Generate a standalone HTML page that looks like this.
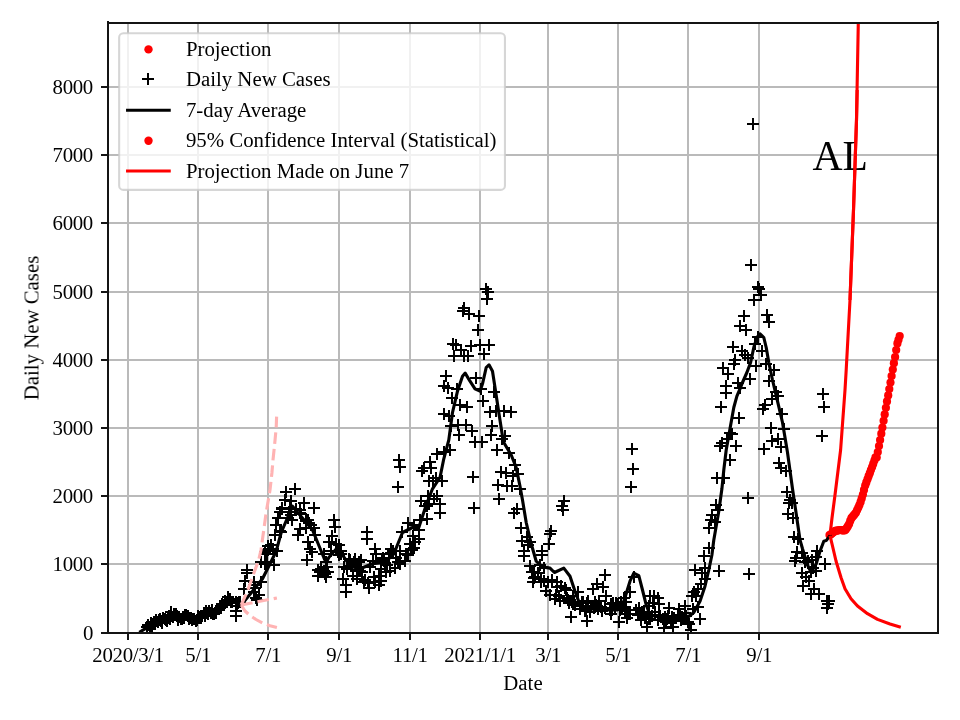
<!DOCTYPE html>
<html><head><meta charset="utf-8"><title>AL</title>
<style>html,body{margin:0;padding:0;background:#fff;}body{width:960px;height:720px;overflow:hidden;font-family:"Liberation Serif",serif;}svg{display:block;}text{font-family:"Liberation Serif",serif;fill:#000;}</style>
</head><body>
<svg width="960" height="720" viewBox="0 0 960 720">
<rect x="0" y="0" width="960" height="720" fill="#ffffff"/>
<defs><clipPath id="ax"><rect x="108.00" y="23.00" width="830.00" height="610.00"/></clipPath>
</defs>
<g fill="#bababa" shape-rendering="crispEdges">
<rect x="127" y="23" width="2" height="610"/>
<rect x="197" y="23" width="2" height="610"/>
<rect x="267" y="23" width="2" height="610"/>
<rect x="338" y="23" width="2" height="610"/>
<rect x="409" y="23" width="2" height="610"/>
<rect x="479" y="23" width="2" height="610"/>
<rect x="547" y="23" width="2" height="610"/>
<rect x="617" y="23" width="2" height="610"/>
<rect x="687" y="23" width="2" height="610"/>
<rect x="758" y="23" width="2" height="610"/>
<rect x="108" y="632" width="830" height="2"/>
<rect x="108" y="563" width="830" height="2"/>
<rect x="108" y="495" width="830" height="2"/>
<rect x="108" y="427" width="830" height="2"/>
<rect x="108" y="359" width="830" height="2"/>
<rect x="108" y="291" width="830" height="2"/>
<rect x="108" y="222" width="830" height="2"/>
<rect x="108" y="154" width="830" height="2"/>
<rect x="108" y="86" width="830" height="2"/>
</g>
<g clip-path="url(#ax)">
<g fill="#ff0000"><circle cx="829.5" cy="535.0" r="4.1"/><circle cx="830.7" cy="534.5" r="4.1"/><circle cx="831.8" cy="533.6" r="4.1"/><circle cx="833.0" cy="532.6" r="4.1"/><circle cx="834.1" cy="531.7" r="4.1"/><circle cx="835.3" cy="530.9" r="4.1"/><circle cx="836.4" cy="530.7" r="4.1"/><circle cx="837.6" cy="530.5" r="4.1"/><circle cx="838.7" cy="530.3" r="4.1"/><circle cx="839.9" cy="530.0" r="4.1"/><circle cx="841.0" cy="530.1" r="4.1"/><circle cx="842.2" cy="530.3" r="4.1"/><circle cx="843.3" cy="530.4" r="4.1"/><circle cx="844.5" cy="530.5" r="4.1"/><circle cx="845.6" cy="529.7" r="4.1"/><circle cx="846.8" cy="527.9" r="4.1"/><circle cx="847.9" cy="526.2" r="4.1"/><circle cx="849.1" cy="524.0" r="4.1"/><circle cx="850.2" cy="520.9" r="4.1"/><circle cx="851.4" cy="518.2" r="4.1"/><circle cx="852.5" cy="516.8" r="4.1"/><circle cx="853.7" cy="515.4" r="4.1"/><circle cx="854.8" cy="514.0" r="4.1"/><circle cx="856.0" cy="512.5" r="4.1"/><circle cx="857.1" cy="510.0" r="4.1"/><circle cx="858.3" cy="507.5" r="4.1"/><circle cx="859.4" cy="505.0" r="4.1"/><circle cx="860.6" cy="501.9" r="4.1"/><circle cx="861.7" cy="498.4" r="4.1"/><circle cx="862.9" cy="494.5" r="4.1"/><circle cx="864.0" cy="489.9" r="4.1"/><circle cx="865.2" cy="485.5" r="4.1"/><circle cx="866.3" cy="482.4" r="4.1"/><circle cx="867.5" cy="479.3" r="4.1"/><circle cx="868.6" cy="476.2" r="4.1"/><circle cx="869.8" cy="473.2" r="4.1"/><circle cx="870.9" cy="470.1" r="4.1"/><circle cx="872.1" cy="467.1" r="4.1"/><circle cx="873.2" cy="463.9" r="4.1"/><circle cx="874.4" cy="460.5" r="4.1"/><circle cx="875.5" cy="457.3" r="4.1"/><circle cx="876.7" cy="457.5" r="4.1"/><circle cx="877.8" cy="452.0" r="4.1"/><circle cx="879.0" cy="446.0" r="4.1"/><circle cx="880.1" cy="440.0" r="4.1"/><circle cx="881.3" cy="433.7" r="4.1"/><circle cx="882.4" cy="427.5" r="4.1"/><circle cx="883.6" cy="420.8" r="4.1"/><circle cx="884.7" cy="414.4" r="4.1"/><circle cx="885.9" cy="407.8" r="4.1"/><circle cx="887.0" cy="401.4" r="4.1"/><circle cx="888.2" cy="395.4" r="4.1"/><circle cx="889.3" cy="389.0" r="4.1"/><circle cx="890.5" cy="382.6" r="4.1"/><circle cx="891.6" cy="376.0" r="4.1"/><circle cx="892.8" cy="369.6" r="4.1"/><circle cx="893.9" cy="363.2" r="4.1"/><circle cx="895.1" cy="357.0" r="4.1"/><circle cx="896.2" cy="350.0" r="4.1"/><circle cx="897.4" cy="343.4" r="4.1"/><circle cx="898.5" cy="339.8" r="4.1"/><circle cx="899.7" cy="336.0" r="4.1"/></g>
<path fill="#000" shape-rendering="crispEdges" d="M141 626h12v2h-12zM146 621h2v12h-2zM142 624h12v2h-12zM147 619h2v12h-2zM144 626h12v2h-12zM149 621h2v12h-2zM145 622h12v2h-12zM150 617h2v12h-2zM146 625h12v2h-12zM151 620h2v12h-2zM147 623h12v2h-12zM152 618h2v12h-2zM148 621h12v2h-12zM153 616h2v12h-2zM149 623h12v2h-12zM154 618h2v12h-2zM150 619h12v2h-12zM155 614h2v12h-2zM152 621h12v2h-12zM157 616h2v12h-2zM153 619h12v2h-12zM158 614h2v12h-2zM154 618h12v2h-12zM159 613h2v12h-2zM155 620h12v2h-12zM160 615h2v12h-2zM156 622h12v2h-12zM161 617h2v12h-2zM157 617h12v2h-12zM162 612h2v12h-2zM159 618h12v2h-12zM164 613h2v12h-2zM160 619h12v2h-12zM165 614h2v12h-2zM161 620h12v2h-12zM166 615h2v12h-2zM162 617h12v2h-12zM167 612h2v12h-2zM163 615h12v2h-12zM168 610h2v12h-2zM164 618h12v2h-12zM169 613h2v12h-2zM165 611h12v2h-12zM170 606h2v12h-2zM167 616h12v2h-12zM172 611h2v12h-2zM168 613h12v2h-12zM173 608h2v12h-2zM169 613h12v2h-12zM174 608h2v12h-2zM170 613h12v2h-12zM175 608h2v12h-2zM171 615h12v2h-12zM176 610h2v12h-2zM172 619h12v2h-12zM177 614h2v12h-2zM173 616h12v2h-12zM178 611h2v12h-2zM175 618h12v2h-12zM180 613h2v12h-2zM176 618h12v2h-12zM181 613h2v12h-2zM177 616h12v2h-12zM182 611h2v12h-2zM178 617h12v2h-12zM183 612h2v12h-2zM179 614h12v2h-12zM184 609h2v12h-2zM180 614h12v2h-12zM185 609h2v12h-2zM182 615h12v2h-12zM187 610h2v12h-2zM183 618h12v2h-12zM188 613h2v12h-2zM184 617h12v2h-12zM189 612h2v12h-2zM185 617h12v2h-12zM190 612h2v12h-2zM186 619h12v2h-12zM191 614h2v12h-2zM187 618h12v2h-12zM192 613h2v12h-2zM188 618h12v2h-12zM193 613h2v12h-2zM190 620h12v2h-12zM195 615h2v12h-2zM191 619h12v2h-12zM196 614h2v12h-2zM192 615h12v2h-12zM197 610h2v12h-2zM193 617h12v2h-12zM198 612h2v12h-2zM194 616h12v2h-12zM199 611h2v12h-2zM195 617h12v2h-12zM200 612h2v12h-2zM196 615h12v2h-12zM201 610h2v12h-2zM198 612h12v2h-12zM203 607h2v12h-2zM199 615h12v2h-12zM204 610h2v12h-2zM200 610h12v2h-12zM205 605h2v12h-2zM201 612h12v2h-12zM206 607h2v12h-2zM202 613h12v2h-12zM207 608h2v12h-2zM203 610h12v2h-12zM208 605h2v12h-2zM205 612h12v2h-12zM210 607h2v12h-2zM206 609h12v2h-12zM211 604h2v12h-2zM207 613h12v2h-12zM212 608h2v12h-2zM208 613h12v2h-12zM213 608h2v12h-2zM209 612h12v2h-12zM214 607h2v12h-2zM210 612h12v2h-12zM215 607h2v12h-2zM211 608h12v2h-12zM216 603h2v12h-2zM213 608h12v2h-12zM218 603h2v12h-2zM214 607h12v2h-12zM219 602h2v12h-2zM215 605h12v2h-12zM220 600h2v12h-2zM216 603h12v2h-12zM221 598h2v12h-2zM217 604h12v2h-12zM222 599h2v12h-2zM218 604h12v2h-12zM223 599h2v12h-2zM219 600h12v2h-12zM224 595h2v12h-2zM221 601h12v2h-12zM226 596h2v12h-2zM222 596h12v2h-12zM227 591h2v12h-2zM223 599h12v2h-12zM228 594h2v12h-2zM224 598h12v2h-12zM229 593h2v12h-2zM225 601h12v2h-12zM230 596h2v12h-2zM226 601h12v2h-12zM231 596h2v12h-2zM230 601h12v2h-12zM235 596h2v12h-2zM230 610h12v2h-12zM235 605h2v12h-2zM230 615h12v2h-12zM235 610h2v12h-2zM231 605h12v2h-12zM236 600h2v12h-2zM232 602h12v2h-12zM237 597h2v12h-2zM233 601h12v2h-12zM238 596h2v12h-2zM234 601h12v2h-12zM239 596h2v12h-2zM238 588h12v2h-12zM243 583h2v12h-2zM239 580h12v2h-12zM244 575h2v12h-2zM241 569h12v2h-12zM246 564h2v12h-2zM241 572h12v2h-12zM246 567h2v12h-2zM248 581h12v2h-12zM253 576h2v12h-2zM248 584h12v2h-12zM253 579h2v12h-2zM248 591h12v2h-12zM253 586h2v12h-2zM249 587h12v2h-12zM254 582h2v12h-2zM250 597h12v2h-12zM255 592h2v12h-2zM251 599h12v2h-12zM256 594h2v12h-2zM253 594h12v2h-12zM258 589h2v12h-2zM255 561h12v2h-12zM260 556h2v12h-2zM255 581h12v2h-12zM260 576h2v12h-2zM259 552h12v2h-12zM264 547h2v12h-2zM259 551h12v2h-12zM264 546h2v12h-2zM259 563h12v2h-12zM264 558h2v12h-2zM260 553h12v2h-12zM265 548h2v12h-2zM261 561h12v2h-12zM266 556h2v12h-2zM262 549h12v2h-12zM267 544h2v12h-2zM262 545h12v2h-12zM267 540h2v12h-2zM263 548h12v2h-12zM268 543h2v12h-2zM265 544h12v2h-12zM270 539h2v12h-2zM267 548h12v2h-12zM272 543h2v12h-2zM268 564h12v2h-12zM273 559h2v12h-2zM269 534h12v2h-12zM274 529h2v12h-2zM270 524h12v2h-12zM275 519h2v12h-2zM271 550h12v2h-12zM276 545h2v12h-2zM272 517h12v2h-12zM277 512h2v12h-2zM274 511h12v2h-12zM279 506h2v12h-2zM274 530h12v2h-12zM279 525h2v12h-2zM275 531h12v2h-12zM280 526h2v12h-2zM276 508h12v2h-12zM281 503h2v12h-2zM276 507h12v2h-12zM281 502h2v12h-2zM279 499h12v2h-12zM284 494h2v12h-2zM280 491h12v2h-12zM285 486h2v12h-2zM282 517h12v2h-12zM287 512h2v12h-2zM283 511h12v2h-12zM288 506h2v12h-2zM284 507h12v2h-12zM289 502h2v12h-2zM285 514h12v2h-12zM290 509h2v12h-2zM285 500h12v2h-12zM290 495h2v12h-2zM286 519h12v2h-12zM291 514h2v12h-2zM289 488h12v2h-12zM294 483h2v12h-2zM290 508h12v2h-12zM295 503h2v12h-2zM292 534h12v2h-12zM297 529h2v12h-2zM294 509h12v2h-12zM299 504h2v12h-2zM294 528h12v2h-12zM299 523h2v12h-2zM294 512h12v2h-12zM299 507h2v12h-2zM295 513h12v2h-12zM300 508h2v12h-2zM298 502h12v2h-12zM303 497h2v12h-2zM300 527h12v2h-12zM305 522h2v12h-2zM300 520h12v2h-12zM305 515h2v12h-2zM301 559h12v2h-12zM306 554h2v12h-2zM302 541h12v2h-12zM307 536h2v12h-2zM302 519h12v2h-12zM307 514h2v12h-2zM303 522h12v2h-12zM308 517h2v12h-2zM304 548h12v2h-12zM309 543h2v12h-2zM305 524h12v2h-12zM310 519h2v12h-2zM306 551h12v2h-12zM311 546h2v12h-2zM308 507h12v2h-12zM313 502h2v12h-2zM308 527h12v2h-12zM313 522h2v12h-2zM309 534h12v2h-12zM314 529h2v12h-2zM312 569h12v2h-12zM317 564h2v12h-2zM312 575h12v2h-12zM317 570h2v12h-2zM314 571h12v2h-12zM319 566h2v12h-2zM315 568h12v2h-12zM320 563h2v12h-2zM318 553h12v2h-12zM323 548h2v12h-2zM318 570h12v2h-12zM323 565h2v12h-2zM319 573h12v2h-12zM324 568h2v12h-2zM320 561h12v2h-12zM325 556h2v12h-2zM320 576h12v2h-12zM325 571h2v12h-2zM321 566h12v2h-12zM326 561h2v12h-2zM322 571h12v2h-12zM327 566h2v12h-2zM323 541h12v2h-12zM328 536h2v12h-2zM325 550h12v2h-12zM330 545h2v12h-2zM326 535h12v2h-12zM331 530h2v12h-2zM328 519h12v2h-12zM333 514h2v12h-2zM329 526h12v2h-12zM334 521h2v12h-2zM330 543h12v2h-12zM335 538h2v12h-2zM332 551h12v2h-12zM337 546h2v12h-2zM333 544h12v2h-12zM338 539h2v12h-2zM333 554h12v2h-12zM338 549h2v12h-2zM335 553h12v2h-12zM340 548h2v12h-2zM335 550h12v2h-12zM340 545h2v12h-2zM337 578h12v2h-12zM342 573h2v12h-2zM338 566h12v2h-12zM343 561h2v12h-2zM340 591h12v2h-12zM345 586h2v12h-2zM340 584h12v2h-12zM345 579h2v12h-2zM341 568h12v2h-12zM346 563h2v12h-2zM343 558h12v2h-12zM348 553h2v12h-2zM344 559h12v2h-12zM349 554h2v12h-2zM345 565h12v2h-12zM350 560h2v12h-2zM346 563h12v2h-12zM351 558h2v12h-2zM347 575h12v2h-12zM352 570h2v12h-2zM348 561h12v2h-12zM353 556h2v12h-2zM349 558h12v2h-12zM354 553h2v12h-2zM351 578h12v2h-12zM356 573h2v12h-2zM352 569h12v2h-12zM357 564h2v12h-2zM353 561h12v2h-12zM358 556h2v12h-2zM354 570h12v2h-12zM359 565h2v12h-2zM355 559h12v2h-12zM360 554h2v12h-2zM356 571h12v2h-12zM361 566h2v12h-2zM358 581h12v2h-12zM363 576h2v12h-2zM359 579h12v2h-12zM364 574h2v12h-2zM361 531h12v2h-12zM366 526h2v12h-2zM361 538h12v2h-12zM366 533h2v12h-2zM362 582h12v2h-12zM367 577h2v12h-2zM363 587h12v2h-12zM368 582h2v12h-2zM364 566h12v2h-12zM369 561h2v12h-2zM367 560h12v2h-12zM372 555h2v12h-2zM368 576h12v2h-12zM373 571h2v12h-2zM369 548h12v2h-12zM374 543h2v12h-2zM369 581h12v2h-12zM374 576h2v12h-2zM370 553h12v2h-12zM375 548h2v12h-2zM373 575h12v2h-12zM378 570h2v12h-2zM373 584h12v2h-12zM378 579h2v12h-2zM375 580h12v2h-12zM380 575h2v12h-2zM375 568h12v2h-12zM380 563h2v12h-2zM376 559h12v2h-12zM381 554h2v12h-2zM377 557h12v2h-12zM382 552h2v12h-2zM378 560h12v2h-12zM383 555h2v12h-2zM379 562h12v2h-12zM384 557h2v12h-2zM380 571h12v2h-12zM385 566h2v12h-2zM381 564h12v2h-12zM386 559h2v12h-2zM383 553h12v2h-12zM388 548h2v12h-2zM384 570h12v2h-12zM389 565h2v12h-2zM385 548h12v2h-12zM390 543h2v12h-2zM385 552h12v2h-12zM390 547h2v12h-2zM387 550h12v2h-12zM392 545h2v12h-2zM389 567h12v2h-12zM394 562h2v12h-2zM390 557h12v2h-12zM395 552h2v12h-2zM392 561h12v2h-12zM397 556h2v12h-2zM392 486h12v2h-12zM397 481h2v12h-2zM393 459h12v2h-12zM398 454h2v12h-2zM394 466h12v2h-12zM399 461h2v12h-2zM394 563h12v2h-12zM399 558h2v12h-2zM394 550h12v2h-12zM399 545h2v12h-2zM396 531h12v2h-12zM401 526h2v12h-2zM399 560h12v2h-12zM404 555h2v12h-2zM400 553h12v2h-12zM405 548h2v12h-2zM402 522h12v2h-12zM407 517h2v12h-2zM402 554h12v2h-12zM407 549h2v12h-2zM404 543h12v2h-12zM409 538h2v12h-2zM405 548h12v2h-12zM410 543h2v12h-2zM406 549h12v2h-12zM411 544h2v12h-2zM407 535h12v2h-12zM412 530h2v12h-2zM408 524h12v2h-12zM413 519h2v12h-2zM408 547h12v2h-12zM413 542h2v12h-2zM409 541h12v2h-12zM414 536h2v12h-2zM413 529h12v2h-12zM418 524h2v12h-2zM413 538h12v2h-12zM418 533h2v12h-2zM414 519h12v2h-12zM419 514h2v12h-2zM415 500h12v2h-12zM420 495h2v12h-2zM416 470h12v2h-12zM421 465h2v12h-2zM418 467h12v2h-12zM423 462h2v12h-2zM419 505h12v2h-12zM424 500h2v12h-2zM421 505h12v2h-12zM426 500h2v12h-2zM421 518h12v2h-12zM426 513h2v12h-2zM422 495h12v2h-12zM427 490h2v12h-2zM423 480h12v2h-12zM428 475h2v12h-2zM423 503h12v2h-12zM428 498h2v12h-2zM424 461h12v2h-12zM429 456h2v12h-2zM425 467h12v2h-12zM430 462h2v12h-2zM427 480h12v2h-12zM432 475h2v12h-2zM428 498h12v2h-12zM433 493h2v12h-2zM430 477h12v2h-12zM435 472h2v12h-2zM431 453h12v2h-12zM436 448h2v12h-2zM431 495h12v2h-12zM436 490h2v12h-2zM434 503h12v2h-12zM439 498h2v12h-2zM434 512h12v2h-12zM439 507h2v12h-2zM436 480h12v2h-12zM441 475h2v12h-2zM438 413h12v2h-12zM443 408h2v12h-2zM438 451h12v2h-12zM443 446h2v12h-2zM438 385h12v2h-12zM443 380h2v12h-2zM440 375h12v2h-12zM445 370h2v12h-2zM442 387h12v2h-12zM447 382h2v12h-2zM443 415h12v2h-12zM448 410h2v12h-2zM444 449h12v2h-12zM449 444h2v12h-2zM445 425h12v2h-12zM450 420h2v12h-2zM446 397h12v2h-12zM451 392h2v12h-2zM447 343h12v2h-12zM452 338h2v12h-2zM448 355h12v2h-12zM453 350h2v12h-2zM450 344h12v2h-12zM455 339h2v12h-2zM451 388h12v2h-12zM456 383h2v12h-2zM452 424h12v2h-12zM457 419h2v12h-2zM453 434h12v2h-12zM458 429h2v12h-2zM454 404h12v2h-12zM459 399h2v12h-2zM455 349h12v2h-12zM460 344h2v12h-2zM457 310h12v2h-12zM462 305h2v12h-2zM458 307h12v2h-12zM463 302h2v12h-2zM458 355h12v2h-12zM463 350h2v12h-2zM460 424h12v2h-12zM465 419h2v12h-2zM461 406h12v2h-12zM466 401h2v12h-2zM462 355h12v2h-12zM467 350h2v12h-2zM463 313h12v2h-12zM468 308h2v12h-2zM465 345h12v2h-12zM470 340h2v12h-2zM466 430h12v2h-12zM471 425h2v12h-2zM467 476h12v2h-12zM472 471h2v12h-2zM468 507h12v2h-12zM473 502h2v12h-2zM469 441h12v2h-12zM474 436h2v12h-2zM470 377h12v2h-12zM475 372h2v12h-2zM472 329h12v2h-12zM477 324h2v12h-2zM473 315h12v2h-12zM478 310h2v12h-2zM474 344h12v2h-12zM479 339h2v12h-2zM475 388h12v2h-12zM480 383h2v12h-2zM476 441h12v2h-12zM481 436h2v12h-2zM477 400h12v2h-12zM482 395h2v12h-2zM478 353h12v2h-12zM483 348h2v12h-2zM480 288h12v2h-12zM485 283h2v12h-2zM481 298h12v2h-12zM486 293h2v12h-2zM482 291h12v2h-12zM487 286h2v12h-2zM483 344h12v2h-12zM488 339h2v12h-2zM484 411h12v2h-12zM489 406h2v12h-2zM485 434h12v2h-12zM490 429h2v12h-2zM486 425h12v2h-12zM491 420h2v12h-2zM488 391h12v2h-12zM493 386h2v12h-2zM490 410h12v2h-12zM495 405h2v12h-2zM491 449h12v2h-12zM496 444h2v12h-2zM492 484h12v2h-12zM497 479h2v12h-2zM493 498h12v2h-12zM498 493h2v12h-2zM495 471h12v2h-12zM500 466h2v12h-2zM496 438h12v2h-12zM501 433h2v12h-2zM498 410h12v2h-12zM503 405h2v12h-2zM499 435h12v2h-12zM504 430h2v12h-2zM500 472h12v2h-12zM505 467h2v12h-2zM501 485h12v2h-12zM506 480h2v12h-2zM503 452h12v2h-12zM508 447h2v12h-2zM505 411h12v2h-12zM510 406h2v12h-2zM506 485h12v2h-12zM511 480h2v12h-2zM507 475h12v2h-12zM512 470h2v12h-2zM508 512h12v2h-12zM513 507h2v12h-2zM509 464h12v2h-12zM514 459h2v12h-2zM511 508h12v2h-12zM516 503h2v12h-2zM512 473h12v2h-12zM517 468h2v12h-2zM514 488h12v2h-12zM519 483h2v12h-2zM515 527h12v2h-12zM520 522h2v12h-2zM516 540h12v2h-12zM521 535h2v12h-2zM518 555h12v2h-12zM523 550h2v12h-2zM518 550h12v2h-12zM523 545h2v12h-2zM521 536h12v2h-12zM526 531h2v12h-2zM522 544h12v2h-12zM527 539h2v12h-2zM524 565h12v2h-12zM529 560h2v12h-2zM524 541h12v2h-12zM529 536h2v12h-2zM526 571h12v2h-12zM531 566h2v12h-2zM527 581h12v2h-12zM532 576h2v12h-2zM528 577h12v2h-12zM533 572h2v12h-2zM528 571h12v2h-12zM533 566h2v12h-2zM529 576h12v2h-12zM534 571h2v12h-2zM532 572h12v2h-12zM537 567h2v12h-2zM534 564h12v2h-12zM539 559h2v12h-2zM535 578h12v2h-12zM540 573h2v12h-2zM535 581h12v2h-12zM540 576h2v12h-2zM536 550h12v2h-12zM541 545h2v12h-2zM536 554h12v2h-12zM541 549h2v12h-2zM538 567h12v2h-12zM543 562h2v12h-2zM538 580h12v2h-12zM543 575h2v12h-2zM540 590h12v2h-12zM545 585h2v12h-2zM542 581h12v2h-12zM547 576h2v12h-2zM543 543h12v2h-12zM548 538h2v12h-2zM544 533h12v2h-12zM549 528h2v12h-2zM544 594h12v2h-12zM549 589h2v12h-2zM545 530h12v2h-12zM550 525h2v12h-2zM546 579h12v2h-12zM551 574h2v12h-2zM549 598h12v2h-12zM554 593h2v12h-2zM550 594h12v2h-12zM555 589h2v12h-2zM551 586h12v2h-12zM556 581h2v12h-2zM551 581h12v2h-12zM556 576h2v12h-2zM553 595h12v2h-12zM558 590h2v12h-2zM554 600h12v2h-12zM559 595h2v12h-2zM555 585h12v2h-12zM560 580h2v12h-2zM556 505h12v2h-12zM561 500h2v12h-2zM557 509h12v2h-12zM562 504h2v12h-2zM558 500h12v2h-12zM563 495h2v12h-2zM559 587h12v2h-12zM564 582h2v12h-2zM560 589h12v2h-12zM565 584h2v12h-2zM561 597h12v2h-12zM566 592h2v12h-2zM562 599h12v2h-12zM567 594h2v12h-2zM563 602h12v2h-12zM568 597h2v12h-2zM565 616h12v2h-12zM570 611h2v12h-2zM566 601h12v2h-12zM571 596h2v12h-2zM567 603h12v2h-12zM572 598h2v12h-2zM567 595h12v2h-12zM572 590h2v12h-2zM568 602h12v2h-12zM573 597h2v12h-2zM569 604h12v2h-12zM574 599h2v12h-2zM572 591h12v2h-12zM577 586h2v12h-2zM574 608h12v2h-12zM579 603h2v12h-2zM575 605h12v2h-12zM580 600h2v12h-2zM576 601h12v2h-12zM581 596h2v12h-2zM576 601h12v2h-12zM581 596h2v12h-2zM577 601h12v2h-12zM582 596h2v12h-2zM579 610h12v2h-12zM584 605h2v12h-2zM580 609h12v2h-12zM585 604h2v12h-2zM581 602h12v2h-12zM586 597h2v12h-2zM581 620h12v2h-12zM586 615h2v12h-2zM582 600h12v2h-12zM587 595h2v12h-2zM584 611h12v2h-12zM589 606h2v12h-2zM585 605h12v2h-12zM590 600h2v12h-2zM587 588h12v2h-12zM592 583h2v12h-2zM588 607h12v2h-12zM593 602h2v12h-2zM589 601h12v2h-12zM594 596h2v12h-2zM590 604h12v2h-12zM595 599h2v12h-2zM591 583h12v2h-12zM596 578h2v12h-2zM592 608h12v2h-12zM597 603h2v12h-2zM593 600h12v2h-12zM598 595h2v12h-2zM595 606h12v2h-12zM600 601h2v12h-2zM596 610h12v2h-12zM601 605h2v12h-2zM597 586h12v2h-12zM602 581h2v12h-2zM599 574h12v2h-12zM604 569h2v12h-2zM599 607h12v2h-12zM604 602h2v12h-2zM600 595h12v2h-12zM605 590h2v12h-2zM604 609h12v2h-12zM609 604h2v12h-2zM605 603h12v2h-12zM610 598h2v12h-2zM605 603h12v2h-12zM610 598h2v12h-2zM605 613h12v2h-12zM610 608h2v12h-2zM606 609h12v2h-12zM611 604h2v12h-2zM607 602h12v2h-12zM612 597h2v12h-2zM609 608h12v2h-12zM614 603h2v12h-2zM610 602h12v2h-12zM615 597h2v12h-2zM611 603h12v2h-12zM616 598h2v12h-2zM612 604h12v2h-12zM617 599h2v12h-2zM613 621h12v2h-12zM618 616h2v12h-2zM614 609h12v2h-12zM619 604h2v12h-2zM615 601h12v2h-12zM620 596h2v12h-2zM616 608h12v2h-12zM621 603h2v12h-2zM618 597h12v2h-12zM623 592h2v12h-2zM619 606h12v2h-12zM624 601h2v12h-2zM619 610h12v2h-12zM624 605h2v12h-2zM620 601h12v2h-12zM625 596h2v12h-2zM621 617h12v2h-12zM626 612h2v12h-2zM622 613h12v2h-12zM627 608h2v12h-2zM624 591h12v2h-12zM629 586h2v12h-2zM624 613h12v2h-12zM629 608h2v12h-2zM625 486h12v2h-12zM630 481h2v12h-2zM626 448h12v2h-12zM631 443h2v12h-2zM627 468h12v2h-12zM632 463h2v12h-2zM628 576h12v2h-12zM633 571h2v12h-2zM630 609h12v2h-12zM635 604h2v12h-2zM632 614h12v2h-12zM637 609h2v12h-2zM633 607h12v2h-12zM638 602h2v12h-2zM635 612h12v2h-12zM640 607h2v12h-2zM635 619h12v2h-12zM640 614h2v12h-2zM636 611h12v2h-12zM641 606h2v12h-2zM638 613h12v2h-12zM643 608h2v12h-2zM639 617h12v2h-12zM644 612h2v12h-2zM639 616h12v2h-12zM644 611h2v12h-2zM641 626h12v2h-12zM646 621h2v12h-2zM643 605h12v2h-12zM648 600h2v12h-2zM643 618h12v2h-12zM648 613h2v12h-2zM644 595h12v2h-12zM649 590h2v12h-2zM644 618h12v2h-12zM649 613h2v12h-2zM646 615h12v2h-12zM651 610h2v12h-2zM647 602h12v2h-12zM652 597h2v12h-2zM648 595h12v2h-12zM653 590h2v12h-2zM649 611h12v2h-12zM654 606h2v12h-2zM652 597h12v2h-12zM657 592h2v12h-2zM652 619h12v2h-12zM657 614h2v12h-2zM653 614h12v2h-12zM658 609h2v12h-2zM653 603h12v2h-12zM658 598h2v12h-2zM654 615h12v2h-12zM659 610h2v12h-2zM657 618h12v2h-12zM662 613h2v12h-2zM658 627h12v2h-12zM663 622h2v12h-2zM659 616h12v2h-12zM664 611h2v12h-2zM660 621h12v2h-12zM665 616h2v12h-2zM661 618h12v2h-12zM666 613h2v12h-2zM662 615h12v2h-12zM667 610h2v12h-2zM663 607h12v2h-12zM668 602h2v12h-2zM665 622h12v2h-12zM670 617h2v12h-2zM666 616h12v2h-12zM671 611h2v12h-2zM667 620h12v2h-12zM672 615h2v12h-2zM667 626h12v2h-12zM672 621h2v12h-2zM668 617h12v2h-12zM673 612h2v12h-2zM672 615h12v2h-12zM677 610h2v12h-2zM673 615h12v2h-12zM678 610h2v12h-2zM673 608h12v2h-12zM678 603h2v12h-2zM674 614h12v2h-12zM679 609h2v12h-2zM675 619h12v2h-12zM680 614h2v12h-2zM676 616h12v2h-12zM681 611h2v12h-2zM677 618h12v2h-12zM682 613h2v12h-2zM679 612h12v2h-12zM684 607h2v12h-2zM679 605h12v2h-12zM684 600h2v12h-2zM680 615h12v2h-12zM685 610h2v12h-2zM682 621h12v2h-12zM687 616h2v12h-2zM683 623h12v2h-12zM688 618h2v12h-2zM685 629h12v2h-12zM690 624h2v12h-2zM686 595h12v2h-12zM691 590h2v12h-2zM687 608h12v2h-12zM692 603h2v12h-2zM688 591h12v2h-12zM693 586h2v12h-2zM689 569h12v2h-12zM694 564h2v12h-2zM690 595h12v2h-12zM695 590h2v12h-2zM692 588h12v2h-12zM697 583h2v12h-2zM692 606h12v2h-12zM697 601h2v12h-2zM694 618h12v2h-12zM699 613h2v12h-2zM695 583h12v2h-12zM700 578h2v12h-2zM696 572h12v2h-12zM701 567h2v12h-2zM698 555h12v2h-12zM703 550h2v12h-2zM699 567h12v2h-12zM704 562h2v12h-2zM699 578h12v2h-12zM704 573h2v12h-2zM703 547h12v2h-12zM708 542h2v12h-2zM703 527h12v2h-12zM708 522h2v12h-2zM705 519h12v2h-12zM710 514h2v12h-2zM706 514h12v2h-12zM711 509h2v12h-2zM709 521h12v2h-12zM714 516h2v12h-2zM710 504h12v2h-12zM715 499h2v12h-2zM711 477h12v2h-12zM716 472h2v12h-2zM712 509h12v2h-12zM717 504h2v12h-2zM713 570h12v2h-12zM718 565h2v12h-2zM714 445h12v2h-12zM719 440h2v12h-2zM715 406h12v2h-12zM720 401h2v12h-2zM716 442h12v2h-12zM721 437h2v12h-2zM717 367h12v2h-12zM722 362h2v12h-2zM718 477h12v2h-12zM723 472h2v12h-2zM720 392h12v2h-12zM725 387h2v12h-2zM720 385h12v2h-12zM725 380h2v12h-2zM721 438h12v2h-12zM726 433h2v12h-2zM722 373h12v2h-12zM727 368h2v12h-2zM724 432h12v2h-12zM729 427h2v12h-2zM724 459h12v2h-12zM729 454h2v12h-2zM726 433h12v2h-12zM731 428h2v12h-2zM727 346h12v2h-12zM732 341h2v12h-2zM728 363h12v2h-12zM733 358h2v12h-2zM729 359h12v2h-12zM734 354h2v12h-2zM730 445h12v2h-12zM735 440h2v12h-2zM732 382h12v2h-12zM737 377h2v12h-2zM733 417h12v2h-12zM738 412h2v12h-2zM734 325h12v2h-12zM739 320h2v12h-2zM734 387h12v2h-12zM739 382h2v12h-2zM736 350h12v2h-12zM741 345h2v12h-2zM738 315h12v2h-12zM743 310h2v12h-2zM739 354h12v2h-12zM744 349h2v12h-2zM740 329h12v2h-12zM745 324h2v12h-2zM742 357h12v2h-12zM747 352h2v12h-2zM742 497h12v2h-12zM747 492h2v12h-2zM743 573h12v2h-12zM748 568h2v12h-2zM744 378h12v2h-12zM749 373h2v12h-2zM745 264h12v2h-12zM750 259h2v12h-2zM747 123h12v2h-12zM752 118h2v12h-2zM748 299h12v2h-12zM753 294h2v12h-2zM749 343h12v2h-12zM754 338h2v12h-2zM750 365h12v2h-12zM755 360h2v12h-2zM752 336h12v2h-12zM757 331h2v12h-2zM752 286h12v2h-12zM757 281h2v12h-2zM753 288h12v2h-12zM758 283h2v12h-2zM755 294h12v2h-12zM760 289h2v12h-2zM756 350h12v2h-12zM761 345h2v12h-2zM757 408h12v2h-12zM762 403h2v12h-2zM758 448h12v2h-12zM763 443h2v12h-2zM759 404h12v2h-12zM764 399h2v12h-2zM760 363h12v2h-12zM765 358h2v12h-2zM761 314h12v2h-12zM766 309h2v12h-2zM763 321h12v2h-12zM768 316h2v12h-2zM763 380h12v2h-12zM768 375h2v12h-2zM765 427h12v2h-12zM770 422h2v12h-2zM766 440h12v2h-12zM771 435h2v12h-2zM766 398h12v2h-12zM771 393h2v12h-2zM768 369h12v2h-12zM773 364h2v12h-2zM770 391h12v2h-12zM775 386h2v12h-2zM772 395h12v2h-12zM777 390h2v12h-2zM772 438h12v2h-12zM777 433h2v12h-2zM773 462h12v2h-12zM778 457h2v12h-2zM775 467h12v2h-12zM780 462h2v12h-2zM775 446h12v2h-12zM780 441h2v12h-2zM776 413h12v2h-12zM781 408h2v12h-2zM778 428h12v2h-12zM783 423h2v12h-2zM780 470h12v2h-12zM785 465h2v12h-2zM781 491h12v2h-12zM786 486h2v12h-2zM782 513h12v2h-12zM787 508h2v12h-2zM783 502h12v2h-12zM788 497h2v12h-2zM784 499h12v2h-12zM789 494h2v12h-2zM786 502h12v2h-12zM791 497h2v12h-2zM787 517h12v2h-12zM792 512h2v12h-2zM788 536h12v2h-12zM793 531h2v12h-2zM789 560h12v2h-12zM794 555h2v12h-2zM790 557h12v2h-12zM795 552h2v12h-2zM791 551h12v2h-12zM796 546h2v12h-2zM792 538h12v2h-12zM797 533h2v12h-2zM796 552h12v2h-12zM801 547h2v12h-2zM796 572h12v2h-12zM801 567h2v12h-2zM797 585h12v2h-12zM802 580h2v12h-2zM798 557h12v2h-12zM803 552h2v12h-2zM799 561h12v2h-12zM804 556h2v12h-2zM800 576h12v2h-12zM805 571h2v12h-2zM802 560h12v2h-12zM807 555h2v12h-2zM803 580h12v2h-12zM808 575h2v12h-2zM805 593h12v2h-12zM810 588h2v12h-2zM805 571h12v2h-12zM810 566h2v12h-2zM806 559h12v2h-12zM811 554h2v12h-2zM807 567h12v2h-12zM812 562h2v12h-2zM808 588h12v2h-12zM813 583h2v12h-2zM810 556h12v2h-12zM815 551h2v12h-2zM810 570h12v2h-12zM815 565h2v12h-2zM811 550h12v2h-12zM816 545h2v12h-2zM813 593h12v2h-12zM818 588h2v12h-2zM816 435h12v2h-12zM821 430h2v12h-2zM817 393h12v2h-12zM822 388h2v12h-2zM818 406h12v2h-12zM823 401h2v12h-2zM819 563h12v2h-12zM824 558h2v12h-2zM821 600h12v2h-12zM826 595h2v12h-2zM821 607h12v2h-12zM826 602h2v12h-2zM822 603h12v2h-12zM827 598h2v12h-2zM823 600h12v2h-12zM828 595h2v12h-2z"/>
<polyline fill="none" stroke="#000" stroke-width="3.12" stroke-linejoin="round" stroke-linecap="square" points="140.6,631.5 146.2,628.1 155.0,623.8 165.0,620.0 172.5,614.4 180.0,618.8 187.5,617.5 195.0,620.0 205.0,613.1 215.0,612.5 222.5,603.8 230.0,598.1 236.2,602.8 241.2,605.0 252.5,591.2 262.5,578.8 268.8,566.2 276.2,551.2 281.2,532.5 292.5,506.2 312.5,530.0 323.8,557.5 326.2,562.5 328.8,557.5 337.5,547.5 350.0,566.2 360.0,568.8 372.5,563.8 385.0,562.5 393.8,553.8 402.5,532.5 412.5,527.5 418.8,527.5 426.2,505.0 432.5,488.8 440.0,477.5 443.8,458.8 448.8,440.0 452.5,412.5 457.5,391.2 462.5,376.2 465.2,373.1 470.0,381.2 475.0,388.8 480.0,391.2 482.5,383.8 486.2,367.5 489.0,364.8 492.5,371.2 495.0,387.5 498.8,412.5 502.5,436.2 503.8,442.5 511.2,455.0 516.2,467.5 520.0,486.2 522.5,500.0 526.2,522.5 531.2,543.8 536.2,561.2 542.5,566.9 550.0,568.1 554.4,572.5 563.8,568.1 570.0,576.2 575.0,591.2 580.0,605.0 585.0,610.0 595.0,608.8 605.0,610.0 617.5,610.0 622.5,605.0 625.0,597.5 630.0,581.2 633.8,573.1 638.8,575.6 642.5,590.0 646.2,605.0 650.0,615.0 661.2,617.5 671.2,618.8 680.0,617.5 687.5,617.5 693.8,612.5 700.0,601.2 705.0,586.2 708.8,570.0 711.9,555.0 713.8,540.0 718.8,511.2 721.9,488.8 723.8,470.0 726.2,450.0 730.0,428.8 733.8,407.5 736.9,396.2 740.0,388.8 742.5,382.5 746.9,372.5 750.6,362.5 753.8,347.5 756.9,337.5 760.0,333.8 763.8,337.5 766.2,347.5 768.8,362.5 772.5,380.0 777.5,401.2 782.5,422.5 787.5,452.5 790.6,475.0 792.5,488.8 796.2,513.8 800.0,540.0 802.5,548.8 807.5,565.0 811.2,572.5 816.2,563.8 820.0,551.2 823.8,541.2 826.2,540.6 830.0,535.6"/>
<g fill="none" stroke="#ff0000" stroke-width="3.12" stroke-linejoin="round">
<polyline points="830.0,535.0 832.0,518.0 835.0,495.0 840.6,450.0 845.0,390.0 846.2,370.0 850.0,300.0 853.5,210.0 856.5,120.0 858.3,22.5 859.0,0.0"/>
<polyline points="830.0,535.6 832.5,546.0 836.0,561.0 841.0,577.5 845.0,588.7 851.0,598.7 857.5,606.0 867.5,613.7 877.5,619.4 890.0,624.0 900.8,627.2"/>
</g>
<g fill="none" stroke="#ffb3b3" stroke-width="3.12" stroke-dasharray="11.56 5" stroke-linejoin="round">
<polyline points="241.2,605.0 247.5,591.0 255.0,570.0 258.7,560.0 261.0,550.0 266.0,513.7 270.0,490.0 271.9,473.0 273.0,460.0 274.7,443.7 276.2,427.7 276.6,416.6"/>
<polyline points="241.2,605.0 276.9,598.0"/>
<polyline points="241.2,605.0 245.0,611.0 250.0,615.5 256.0,619.5 262.5,623.0 270.0,625.8 276.9,627.5"/>
</g>
</g>
<g fill="#141414" shape-rendering="crispEdges">
<rect x="127" y="634" width="2" height="6"/>
<rect x="197" y="634" width="2" height="6"/>
<rect x="267" y="634" width="2" height="6"/>
<rect x="338" y="634" width="2" height="6"/>
<rect x="409" y="634" width="2" height="6"/>
<rect x="479" y="634" width="2" height="6"/>
<rect x="547" y="634" width="2" height="6"/>
<rect x="617" y="634" width="2" height="6"/>
<rect x="687" y="634" width="2" height="6"/>
<rect x="758" y="634" width="2" height="6"/>
<rect x="101" y="632" width="7" height="2"/>
<rect x="101" y="563" width="7" height="2"/>
<rect x="101" y="495" width="7" height="2"/>
<rect x="101" y="427" width="7" height="2"/>
<rect x="101" y="359" width="7" height="2"/>
<rect x="101" y="291" width="7" height="2"/>
<rect x="101" y="222" width="7" height="2"/>
<rect x="101" y="154" width="7" height="2"/>
<rect x="101" y="86" width="7" height="2"/>
<rect x="107" y="21" width="2" height="613"/>
<rect x="937" y="21" width="2" height="613"/>
<rect x="107" y="22" width="832" height="2"/>
<rect x="107" y="632" width="832" height="2"/>
</g>
<g opacity="0.999">
<g font-size="20.83" letter-spacing="-0.3">
<text x="128.15" y="661.70" text-anchor="middle">2020/3/1</text>
<text x="198.15" y="661.70" text-anchor="middle">5/1</text>
<text x="268.15" y="661.70" text-anchor="middle">7/1</text>
<text x="339.15" y="661.70" text-anchor="middle">9/1</text>
<text x="410.15" y="661.70" text-anchor="middle">11/1</text>
<text x="480.15" y="661.70" text-anchor="middle">2021/1/1</text>
<text x="548.15" y="661.70" text-anchor="middle">3/1</text>
<text x="618.15" y="661.70" text-anchor="middle">5/1</text>
<text x="688.15" y="661.70" text-anchor="middle">7/1</text>
<text x="759.15" y="661.70" text-anchor="middle">9/1</text>
<text x="93.00" y="640.00" text-anchor="end">0</text>
<text x="93.00" y="571.00" text-anchor="end">1000</text>
<text x="93.00" y="503.00" text-anchor="end">2000</text>
<text x="93.00" y="435.00" text-anchor="end">3000</text>
<text x="93.00" y="367.00" text-anchor="end">4000</text>
<text x="93.00" y="299.00" text-anchor="end">5000</text>
<text x="93.00" y="230.00" text-anchor="end">6000</text>
<text x="93.00" y="162.00" text-anchor="end">7000</text>
<text x="93.00" y="94.00" text-anchor="end">8000</text>
</g>
<text x="840.3" y="170" font-size="41.67" text-anchor="middle">AL</text>
<g font-size="20.83">
<text x="523.00" y="689.50" text-anchor="middle">Date</text>
<text transform="translate(38.50 328.00) rotate(-90)" text-anchor="middle">Daily New Cases</text>
</g>
</g>
<polyline fill="none" stroke="#ff0000" stroke-width="3.12" points="850,300 853.5,210 856.5,120 857.2,90"/>
<rect x="119.15" y="33.25" width="385.80" height="156.60" rx="4.2" ry="4.2" fill="#fff" fill-opacity="0.8" stroke="#ccc" stroke-opacity="0.8" stroke-width="2.08"/>
<circle cx="148.5" cy="49.4" r="4.2" fill="#ff0000"/>
<path fill="#000" shape-rendering="crispEdges" d="M142 78h12v2h-12zM147 73h2v12h-2z"/>
<line x1="127.60" y1="110.20" x2="169.20" y2="110.20" stroke="#000" stroke-width="3.12" stroke-linecap="square"/>
<circle cx="148.5" cy="140.7" r="4.2" fill="#ff0000"/>
<line x1="127.60" y1="171.00" x2="169.20" y2="171.00" stroke="#ff0000" stroke-width="3.12" stroke-linecap="square"/>
<g font-size="20.83" opacity="0.999">
<text x="185.90" y="55.90">Projection</text>
<text x="185.90" y="86.20">Daily New Cases</text>
<text x="185.90" y="116.80">7-day Average</text>
<text x="185.90" y="147.20">95% Confidence Interval (Statistical)</text>
<text x="185.90" y="177.60">Projection Made on June 7</text>
</g>
</svg>
</body></html>
